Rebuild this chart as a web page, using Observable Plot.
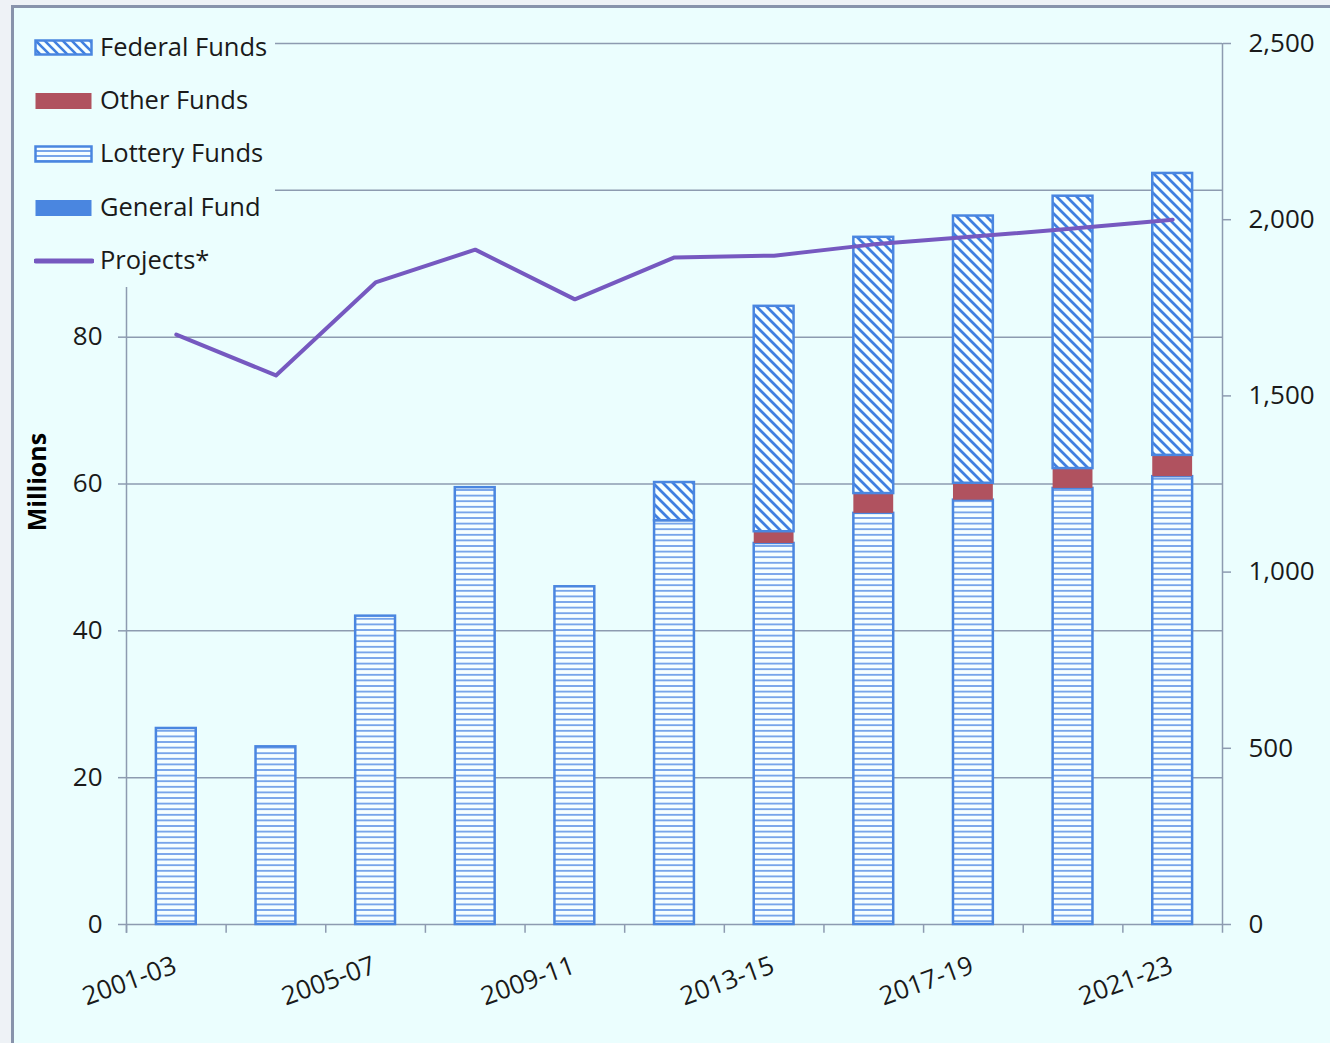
<!DOCTYPE html>
<html>
<head>
<meta charset="utf-8">
<script src="https://cdn.jsdelivr.net/npm/d3@7"></script>
<script src="https://cdn.jsdelivr.net/npm/@observablehq/plot@0.6"></script>
<style>
  html, body { margin: 0; padding: 0; background: #eef2f6; width: 1330px; height: 1043px; overflow: hidden; }
  #frame { position: absolute; left: 11px; top: 5px; width: 1330px; height: 1050px; background: #ebfefe;
           border-left: 3px solid #8893ab; border-top: 3px solid #8893ab; }
  #chart { position: absolute; left: 0; top: 0; }
  #chart svg { font-family: "Open Sans", sans-serif; }
  #legend { position: absolute; left: 14px; top: 8px; width: 261px; height: 279px; background: #ebfefe;
            font-family: "Open Sans", sans-serif; font-size: 25.5px; color: #1a1a1a; }
  .item { position: absolute; left: 0; height: 30px; display: flex; align-items: center; }
  .item svg { position: absolute; left: 20px; }
  .item span { position: absolute; left: 86px; white-space: nowrap; }
  #ylabel { position: absolute; left: 36px; top: 482px; transform: translate(-50%, -50%) rotate(-90deg);
            font-family: "Open Sans", sans-serif; font-weight: bold; font-size: 25px; color: #000; white-space: nowrap; }
</style>
</head>
<body>
<div id="frame"></div>
<div id="chart"></div>
<div id="legend"></div>
<div id="ylabel">Millions</div>
<script>
// ---- Data ----
const periods = ["2001-03","2003-05","2005-07","2007-09","2009-11","2011-13","2013-15","2015-17","2017-19","2019-21","2021-23"];
const generalFund  = [0, 0, 0, 0, 0, 0, 0, 0, 0, 0, 0];
const lotteryFunds = [26.7, 24.2, 42.0, 59.5, 46.0, 55.0, 51.9, 56.0, 57.8, 59.4, 61.0];
const otherFunds   = [0, 0, 0, 0, 0, 0, 1.6, 2.7, 2.3, 2.7, 2.9];
const federalFunds = [0, 0, 0, 0, 0, 5.2, 30.7, 34.9, 36.4, 37.1, 38.4];
const projects     = [1674, 1558, 1822, 1915, 1774, 1893, 1898, 1930, 1952, 1975, 2000];
const labeledPeriods = ["2001-03","2005-07","2009-11","2013-15","2017-19","2021-23"];
const leftTicks  = [0, 20, 40, 60, 80];
const gridValues = [0, 20, 40, 60, 80, 100, 120];
const rightTicks = [0, 500, 1000, 1500, 2000, 2500];
const leftMax = 120, rightMax = 2500;

// ---- Build stacked table ----
const seriesList = [
  {name: "General Fund", values: generalFund},
  {name: "Lottery Funds", values: lotteryFunds},
  {name: "Other Funds", values: otherFunds},
  {name: "Federal Funds", values: federalFunds}
];
const stacked = [];
periods.forEach((p, i) => {
  let base = 0;
  for (const s of seriesList) {
    const v = s.values[i];
    if (v > 0) stacked.push({period: p, series: s.name, y1: base, y2: base + v});
    base += v;
  }
});
const lineData = periods.map((p, i) => ({period: p, value: projects[i] * leftMax / rightMax}));

const BLUE = "#4a86e0", RED = "#b0525f", GRID = "#8d9bb0", PURPLE = "#7659c0";
const half = (1330 - 126 - 108) / periods.length / 2; // half a category band, for boundary ticks

const plot = Plot.plot({
  width: 1330, height: 1043,
  marginTop: 43, marginRight: 108, marginBottom: 119, marginLeft: 126,
  style: {background: "transparent", fontSize: "26px", color: "#1a1a1a"},
  x: {type: "band", domain: periods, paddingInner: 0.6, paddingOuter: 0.3, round: false, axis: null},
  y: {domain: [0, leftMax]},
  marks: [
    Plot.ruleY(gridValues, {stroke: GRID, strokeWidth: 1.5}),
    Plot.barY(stacked.filter(d => d.series === "General Fund"), {x: "period", y1: "y1", y2: "y2", fill: BLUE, stroke: BLUE, strokeWidth: 2.5}),
    Plot.barY(stacked.filter(d => d.series === "Lottery Funds"), {x: "period", y1: "y1", y2: "y2", fill: "url(#lotteryPat)", stroke: BLUE, strokeWidth: 2.5}),
    Plot.barY(stacked.filter(d => d.series === "Other Funds"), {x: "period", y1: "y1", y2: "y2", fill: RED}),
    Plot.barY(stacked.filter(d => d.series === "Federal Funds"), {x: "period", y1: "y1", y2: "y2", fill: "url(#fedPat)", stroke: BLUE, strokeWidth: 2.5}),
    Plot.line(lineData, {x: "period", y: "value", stroke: PURPLE, strokeWidth: 4, strokeLinecap: "round"}),
    // category boundary ticks and axis lines
    Plot.ruleX(periods, {x: d => d, dx: -half, y1: -1.2, y2: 0, stroke: GRID, strokeWidth: 1.5}),
    Plot.ruleX([periods[0]], {x: d => d, dx: -half, y1: -1.2, y2: leftMax, stroke: GRID, strokeWidth: 1.5}),
    Plot.ruleX([periods[periods.length - 1]], {x: d => d, dx: half, y1: -1.2, y2: leftMax, stroke: GRID, strokeWidth: 1.5}),
    Plot.axisY(leftTicks, {anchor: "left", tickSize: 8, tickPadding: 16, stroke: GRID, strokeWidth: 1.5, fontSize: 26, label: null}),
    Plot.axisY(rightTicks.map(v => v * leftMax / rightMax), {anchor: "right", tickSize: 8, tickPadding: 18, stroke: GRID, strokeWidth: 1.5, fontSize: 26, label: null,
      tickFormat: v => d3.format(",")(Math.round(v * rightMax / leftMax))}),
    Plot.text(labeledPeriods, {x: d => d, y: 0, dy: 40, dx: -1, rotate: -20, textAnchor: "end", fontSize: 26, fill: "#1a1a1a"})
  ]
});

const defsHolder = document.createElementNS("http://www.w3.org/2000/svg", "svg");
defsHolder.innerHTML = `<defs>
  <pattern id="lotteryPat" patternUnits="userSpaceOnUse" width="10" height="5.6">
    <rect width="10" height="5.6" fill="#f6ffff"/>
    <line x1="0" x2="10" y1="2.8" y2="2.8" stroke="#6a9ce8" stroke-width="1.7"/>
  </pattern>
  <pattern id="fedPat" patternUnits="userSpaceOnUse" width="10" height="10">
    <rect width="10" height="10" fill="#f6ffff"/>
    <path d="M-5,5 L5,15 M0,0 L10,10 M5,-5 L15,5" stroke="#3f7fe0" stroke-width="2.8"/>
  </pattern>
</defs>`;
plot.insertBefore(defsHolder.firstElementChild, plot.firstChild);
document.getElementById("chart").appendChild(plot);

// ---- Legend ----
const legendItems = [
  {label: "Federal Funds", y: 39, swatch: `<rect x="1.5" y="1.5" width="56" height="14" fill="url(#lgFed)" stroke="${BLUE}" stroke-width="2.5"/>`},
  {label: "Other Funds", y: 92, swatch: `<rect x="1.5" y="1" width="56" height="16" fill="${RED}"/>`},
  {label: "Lottery Funds", y: 145, swatch: `<rect x="1.5" y="1.5" width="56" height="15" fill="url(#lgLot)" stroke="${BLUE}" stroke-width="2.5"/>`},
  {label: "General Fund", y: 199, swatch: `<rect x="1.5" y="1" width="56" height="16" fill="${BLUE}"/>`},
  {label: "Projects*", y: 252, swatch: `<line x1="2" x2="58" y1="9" y2="9" stroke="${PURPLE}" stroke-width="5" stroke-linecap="round"/>`}
];
const legend = document.getElementById("legend");
const legendDefs = `<defs>
  <pattern id="lgLot" patternUnits="userSpaceOnUse" width="10" height="5">
    <rect width="10" height="5" fill="#f6ffff"/>
    <line x1="0" x2="10" y1="1" y2="1" stroke="#6a9ce8" stroke-width="1.8"/>
  </pattern>
  <pattern id="lgFed" patternUnits="userSpaceOnUse" width="9" height="9">
    <rect width="9" height="9" fill="#f6ffff"/>
    <path d="M-4.5,4.5 L4.5,13.5 M0,0 L9,9 M4.5,-4.5 L13.5,4.5" stroke="#3f7fe0" stroke-width="2.6"/>
  </pattern>
</defs>`;
legendItems.forEach((it, i) => {
  const div = document.createElement("div");
  div.className = "item";
  div.style.top = (it.y - 8 - 8) + "px";
  div.innerHTML = `<svg width="60" height="18" style="top:8px">${i === 0 ? legendDefs : ""}${it.swatch}</svg><span>${it.label}</span>`;
  legend.appendChild(div);
});
</script>
</body>
</html>
